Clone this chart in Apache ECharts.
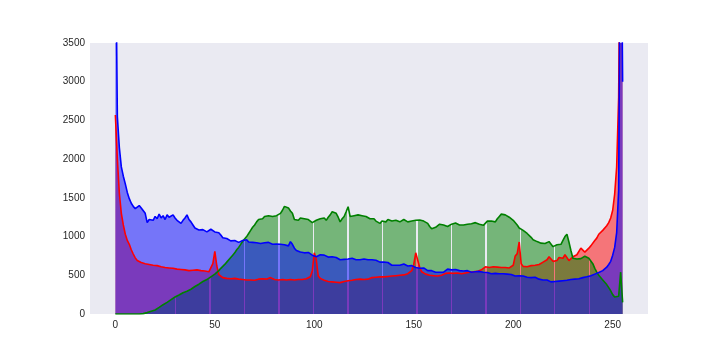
<!DOCTYPE html>
<html>
<head>
<meta charset="utf-8">
<script src="https://cdn.jsdelivr.net/npm/echarts@6/dist/echarts.min.js"></script>
<style>html,body{margin:0;padding:0;background:#fff}#c{width:720px;height:360px}</style>
</head>
<body>
<div id="c"></div>
<script>
const xTicks = [0, 50, 100, 150, 200, 250];
const yTicks = [0, 500, 1000, 1500, 2000, 2500, 3000, 3500];

const red = [
2570,2000,1560,1300,1150,1030,950,900,830,775,725,690,680,665,675,650,660,640,650,630,
645,625,635,610,625,600,615,595,610,590,600,580,595,575,585,570,580,560,575,565,
555,570,550,560,545,555,535,545,560,650,810,620,510,485,470,480,460,470,455,465,
460,470,450,460,445,455,440,450,440,445,435,445,450,460,455,465,450,460,470,455,
445,455,440,450,445,450,440,455,445,450,440,450,445,455,445,450,455,465,480,560,
790,700,490,460,445,435,430,420,430,415,420,410,415,405,400,420,440,430,445,435,
455,445,440,450,440,445,455,450,460,470,465,475,470,480,485,480,490,485,495,490,
500,495,505,500,510,505,515,520,525,560,640,790,780,600,545,530,515,505,500,510,
495,505,490,495,500,510,525,520,530,515,525,520,530,525,520,535,530,545,540,550,
545,555,550,560,570,580,610,635,600,590,610,590,605,620,600,615,600,590,595,600,
630,750,780,930,650,615,620,610,630,625,640,630,650,640,660,670,660,700,740,720,
680,700,690,730,745,720,765,740,690,700,740,730,765,790,850,830,800,810,850,880,
900,950,980,1030,1050,1080,1100,1140,1180,1240,1340,1550,1900,2800,6000,5000
];

const green = [
0,0,0,0,0,0,0,0,0,0,0,0,0,0,5,10,18,25,35,45,
52,70,85,100,120,130,150,175,185,200,220,235,245,250,275,285,295,310,320,340,
355,370,385,400,420,430,445,465,480,500,515,530,560,590,610,640,670,690,730,760,
790,830,860,900,940,965,1000,1040,1080,1120,1150,1190,1220,1245,1230,1260,1240,1270,1250,1260,
1240,1270,1290,1300,1340,1390,1410,1370,1330,1300,1220,1200,1210,1240,1220,1230,1250,1220,1210,1180,
1190,1210,1200,1230,1220,1240,1210,1250,1280,1320,1345,1300,1250,1190,1230,1260,1320,1385,1260,1240,
1270,1290,1280,1300,1270,1250,1260,1240,1230,1210,1230,1200,1190,1170,1200,1210,1190,1220,1210,1200,
1180,1210,1200,1190,1210,1220,1200,1190,1215,1200,1180,1210,1230,1215,1240,1200,1180,1170,1130,1100,
1085,1120,1140,1160,1170,1150,1140,1130,1150,1160,1170,1175,1160,1150,1165,1150,1140,1160,1175,1165,
1170,1180,1165,1160,1150,1145,1170,1200,1215,1200,1210,1190,1230,1260,1290,1310,1280,1260,1250,1230,
1210,1195,1150,1110,1120,1080,1060,1040,1020,990,960,950,935,920,915,930,910,925,935,920,
870,880,895,885,900,950,1000,1030,930,820,720,730,710,720,715,730,745,740,720,700,
650,590,540,500,480,440,410,380,340,300,250,220,215,230,540,150
];

const blue = [
5200,2550,2150,1900,1780,1680,1570,1490,1430,1390,1360,1380,1400,1370,1380,1300,1180,1220,1240,1210,
1260,1230,1290,1240,1270,1220,1280,1250,1230,1280,1240,1210,1190,1170,1210,1240,1280,1220,1190,1150,
1110,1090,1085,1070,1090,1080,1060,1085,1095,1070,1060,1045,1050,1020,985,1000,975,960,945,930,
950,935,925,935,950,935,960,930,950,925,945,920,935,910,930,920,900,925,910,900,
920,905,915,900,880,895,870,880,935,900,850,820,805,800,820,790,780,795,770,760,
745,740,755,765,740,760,750,735,760,740,750,730,745,700,690,705,720,710,735,720,
710,700,715,700,690,710,720,700,690,700,680,695,680,670,685,670,650,665,640,630,
645,630,640,630,620,645,630,620,610,625,610,600,615,590,580,595,570,560,580,560,
550,540,555,540,550,540,560,580,590,570,560,575,565,560,570,555,545,560,550,540,
555,545,540,550,530,540,525,535,530,520,530,525,515,520,510,520,505,515,500,510,
500,490,505,495,485,490,480,475,485,470,465,475,455,450,455,440,430,440,425,415,
405,420,410,425,420,430,425,435,430,445,440,450,445,455,460,470,465,480,490,495,
505,515,520,535,545,560,580,605,640,680,760,860,1050,1600,6000,3000
];

// positions of thin seams visible in the green fill
const greenSeams = [30.3, 47.6, 65.0, 82.3, 99.6, 117.0, 134.3, 151.6, 168.9, 186.3, 203.6, 220.9, 238.3];

const bins = red.map((_, i) => i);
const pairs = arr => arr.map((v, i) => [bins[i], v]);

const RED = '#ff0000', GREEN = '#008000', BLUE = '#0000ff';

const pieces = [];
let prev = -50;
const hw = 0.33;
greenSeams.forEach(g => {
  pieces.push({gte: prev, lt: g - hw, color: GREEN});
  pieces.push({gte: g - hw, lt: g + hw, color: 'rgba(0,128,0,0)'});
  prev = g + hw;
});
pieces.push({gte: prev, lte: 400, color: GREEN});

function areaSeries(data, color) {
  return {
    type: 'line', data: pairs(data), showSymbol: false, symbol: 'none',
    color: color,
    lineStyle: {width: 0, opacity: 0},
    areaStyle: {opacity: 0.5, origin: 0},
    silent: true, animation: false, clip: true
  };
}
function lineSeries(data, color) {
  return {
    type: 'line', data: pairs(data), showSymbol: false, symbol: 'none',
    lineStyle: {width: 1.6, color: color},
    itemStyle: {color: color},
    silent: true, animation: false, clip: true
  };
}
const fontFamily = '"Liberation Sans", Arial, sans-serif';
const chart = echarts.init(document.getElementById('c'), null, {renderer: 'canvas'});
chart.setOption({
  backgroundColor: '#ffffff',
  animation: false,
  grid: {left: 90, right: 72, top: 43, bottom: 46, show: true, backgroundColor: '#eaeaf2', borderWidth: 0},
  xAxis: {
    type: 'value', min: -12.75, max: 267.75,
    axisLine: {show: false}, axisTick: {show: false}, splitLine: {show: false},
    axisLabel: {customValues: xTicks, color: '#262626', fontSize: 10, fontFamily: fontFamily, margin: 6,
      formatter: v => String(v)}
  },
  yAxis: {
    type: 'value', min: 0, max: 3500, interval: 500,
    axisLine: {show: false}, axisTick: {show: false}, splitLine: {show: false},
    axisLabel: {customValues: yTicks, color: '#262626', fontSize: 10, fontFamily: fontFamily, margin: 5,
      formatter: v => String(v)}
  },
  visualMap: [{
    type: 'piecewise', show: false, dimension: 0, seriesIndex: 1,
    pieces: pieces, outOfRange: {color: GREEN}
  }],
  series: [
    areaSeries(red, RED),
    areaSeries(green, GREEN),
    areaSeries(blue, BLUE),
    lineSeries(red, RED),
    lineSeries(green, GREEN),
    lineSeries(blue, BLUE)
  ]
});
</script>
</body>
</html>
